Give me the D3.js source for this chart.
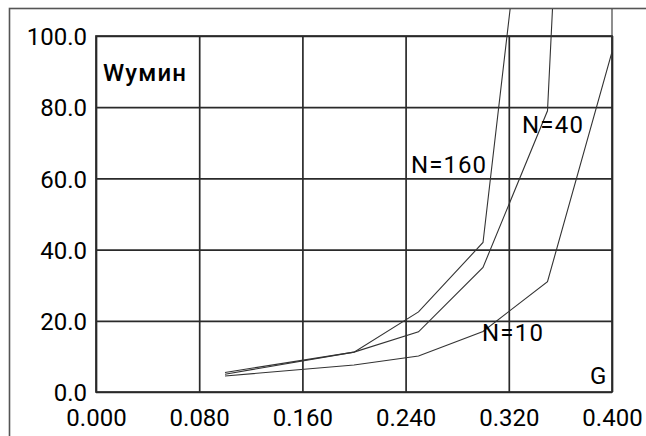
<!DOCTYPE html>
<html>
<head>
<meta charset="utf-8">
<script src="https://cdn.jsdelivr.net/npm/d3@7"></script>
<style>
  html, body { margin: 0; padding: 0; background: #fff; }
  svg { display: block; }
  text { font-family: Roboto, "Noto Sans", sans-serif; fill: #000; }
</style>
</head>
<body>
<svg id="chart" width="646" height="436"></svg>
<script>
// Axis ticks
const gTicks = [0.000, 0.080, 0.160, 0.240, 0.320, 0.400];
const wTicks = [0, 20, 40, 60, 80, 100];

// Flow rate G and the minimum W for each N; the last point of each
// series runs off the top of the grid.
const gN10  = [0.10, 0.20, 0.25, 0.30, 0.35, 0.40, 0.40];
const wN10  = [4.5, 7.6, 10.1, 17.0, 31.0, 95.5, 150];
const gN40  = [0.10, 0.20, 0.25, 0.30, 0.35, 0.36];
const wN40  = [5.0, 11.2, 16.9, 35.0, 79.0, 153];
const gN160 = [0.10, 0.20, 0.25, 0.30, 0.325];
const wN160 = [5.5, 11.2, 22.5, 42.0, 120];

const seriesLabels = ["N=10", "N=40", "N=160"];
const axisTitleY = "Wумин";
const axisTitleX = "G";

const svg = d3.select("#chart");
const margin = { left: 96, top: 36 };
const width = 516, height = 356;
const fontSize = 24;

const x = d3.scaleLinear().domain([0, 0.4]).range([0, width]);
const y = d3.scaleLinear().domain([0, 100]).range([height, 0]);

// outer frame
svg.append("rect")
  .attr("x", 9.5).attr("y", 8.5)
  .attr("width", 700).attr("height", 500)
  .attr("fill", "none").attr("stroke", "#555").attr("stroke-width", 1.6);

const g = svg.append("g").attr("transform", `translate(${margin.left},${margin.top})`);

// vertical grid + G tick labels
const xAxis = g.append("g")
  .attr("transform", `translate(0,${height})`)
  .call(d3.axisBottom(x).tickValues(gTicks).tickFormat(d3.format(".3f"))
    .tickSizeInner(-height).tickSizeOuter(0));
xAxis.select(".domain").remove();
xAxis.selectAll("line").attr("stroke", "#2a2a2a").attr("stroke-width", 1.7);
xAxis.selectAll("text")
  .attr("y", 34).attr("dy", 0)
  .attr("font-size", fontSize).attr("fill", "#000");

// horizontal grid + W tick labels
const yAxis = g.append("g")
  .call(d3.axisLeft(y).tickValues(wTicks).tickFormat(d3.format(".1f"))
    .tickSizeInner(-width).tickSizeOuter(0).tickPadding(9));
yAxis.select(".domain").remove();
yAxis.selectAll("line").attr("stroke", "#2a2a2a").attr("stroke-width", 1.7);
yAxis.selectAll("text")
  .attr("dy", "0.36em")
  .attr("font-size", fontSize).attr("fill", "#000");

// plot border
g.append("rect")
  .attr("x", 0).attr("y", 0).attr("width", width).attr("height", height)
  .attr("fill", "none").attr("stroke", "#2a2a2a").attr("stroke-width", 1.7);

// curves, clipped to the frame
svg.append("clipPath").attr("id", "frameClip")
  .append("rect").attr("x", 10).attr("y", 9).attr("width", 700).attr("height", 500);

const curveLayer = svg.append("g").attr("clip-path", "url(#frameClip)")
  .append("g").attr("transform", `translate(${margin.left},${margin.top})`);

const line = d3.line().x(d => x(d[0])).y(d => y(d[1]));
const series = [
  d3.zip(gN10, wN10),
  d3.zip(gN40, wN40),
  d3.zip(gN160, wN160)
];
curveLayer.selectAll("path.curve")
  .data(series)
  .join("path")
  .attr("class", "curve")
  .attr("d", line)
  .attr("fill", "none")
  .attr("stroke", "#333")
  .attr("stroke-width", 1.1);

// in-plot labels
const labels = [
  { t: axisTitleY, x: 103, y: 81, w: 83, bold: true },
  { t: seriesLabels[2], x: 411, y: 173, w: 75 },
  { t: seriesLabels[1], x: 522, y: 133, w: 61 },
  { t: seriesLabels[0], x: 482, y: 341, w: 61 },
  { t: axisTitleX, x: 590, y: 384 }
];
svg.selectAll("text.lbl")
  .data(labels)
  .join("text")
  .attr("class", "lbl")
  .attr("x", d => d.x).attr("y", d => d.y)
  .attr("font-size", fontSize)
  .attr("font-weight", d => d.bold ? 500 : 400)
  .attr("textLength", d => d.w || null)
  .attr("lengthAdjust", "spacing")
  .text(d => d.t);
</script>
</body>
</html>
